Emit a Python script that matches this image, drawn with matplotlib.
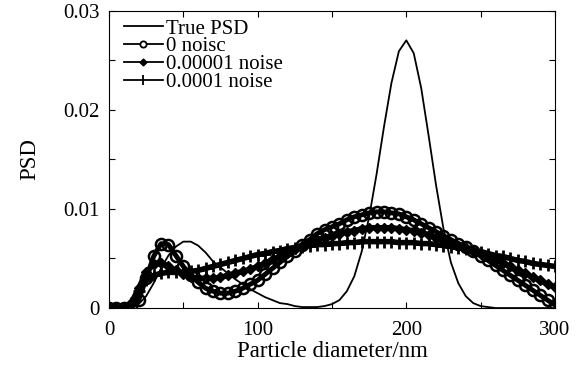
import matplotlib
matplotlib.use("Agg")
import matplotlib.pyplot as plt
from matplotlib.lines import Line2D
from matplotlib.ticker import MultipleLocator, FixedLocator, FixedFormatter

plt.rcParams['font.family'] = ['Liberation Serif', 'DejaVu Serif']

# particle diameter grid (nm)
diameter = list(range(0, 301, 5))

true_psd = [0, 0, 0, 0.0001, 0.0004, 0.0012, 0.0025, 0.0040, 0.0053, 0.0062,
            0.0067, 0.0067, 0.0063, 0.0056, 0.0047, 0.0041, 0.0035, 0.0029, 0.0024, 0.0019,
            0.0015, 0.0011, 0.0008, 0.0005, 0.0004, 0.0002, 0.0001, 0.0001, 0.0001, 0.0002,
            0.0004, 0.0008, 0.0017, 0.0032, 0.0057, 0.0092, 0.0135, 0.0183, 0.0227, 0.0259,
            0.0270, 0.0257, 0.0222, 0.0174, 0.0124, 0.0080, 0.0046, 0.0025, 0.0012, 0.0005,
            0.0002, 0.0001, 0, 0, 0, 0, 0, 0, 0, 0, 0]

noise_0 = [0, 0, 0, 0, 0.0008, 0.0030, 0.0052, 0.0065, 0.0064, 0.0053,
           0.0042, 0.0033, 0.0026, 0.0020, 0.0017, 0.0015, 0.0015, 0.0017, 0.0020, 0.0024,
           0.0028, 0.0034, 0.0040, 0.0046, 0.0052, 0.0058, 0.0064, 0.0069, 0.0075, 0.0079,
           0.0082, 0.0085, 0.0089, 0.0092, 0.0094, 0.0096, 0.0097, 0.0097, 0.0096, 0.0095,
           0.0092, 0.0089, 0.0085, 0.0081, 0.0077, 0.0073, 0.0069, 0.0065, 0.0062, 0.0058,
           0.0053, 0.0048, 0.0043, 0.0038, 0.0033, 0.0028, 0.0023, 0.0018, 0.0013, 0.0008,
           0.0003]

noise_1e5 = [0, 0, 0, 0.0005, 0.0020, 0.0036, 0.0044, 0.0045, 0.0042, 0.0038,
             0.0034, 0.0031, 0.0030, 0.0030, 0.0030, 0.0031, 0.0033, 0.0035, 0.0037, 0.0039,
             0.0042, 0.0045, 0.0049, 0.0052, 0.0056, 0.0060, 0.0063, 0.0066, 0.0069, 0.0071,
             0.0073, 0.0075, 0.0077, 0.0078, 0.0080, 0.0081, 0.0081, 0.0081, 0.0081, 0.0080,
             0.0079, 0.0078, 0.0076, 0.0074, 0.0071, 0.0069, 0.0066, 0.0063, 0.0061, 0.0058,
             0.0055, 0.0052, 0.0049, 0.0045, 0.0042, 0.0038, 0.0035, 0.0031, 0.0028, 0.0024,
             0.0021]

noise_1e4 = [0, 0, 0, 0.0005, 0.0017, 0.0028, 0.0033, 0.0035, 0.0036, 0.0036,
             0.0036, 0.0037, 0.0038, 0.0040, 0.0042, 0.0044, 0.0046, 0.0048, 0.0050, 0.0052,
             0.0054, 0.0055, 0.0057, 0.0058, 0.0060, 0.0061, 0.0062, 0.0063, 0.0064, 0.0064,
             0.0065, 0.0065, 0.0066, 0.0066, 0.0067, 0.0067, 0.0067, 0.0067, 0.0067, 0.0066,
             0.0066, 0.0066, 0.0065, 0.0065, 0.0064, 0.0063, 0.0062, 0.0061, 0.0060, 0.0058,
             0.0057, 0.0055, 0.0053, 0.0052, 0.0050, 0.0048, 0.0047, 0.0045, 0.0044, 0.0043,
             0.0042]

labels = ["True PSD", "0 noisc", "0.00001 noise", "0.0001 noise"]
x_ticks = [0, 100, 200, 300]
y_ticks = [0, 0.01, 0.02, 0.03]
y_tick_labels = ["0", "0.01", "0.02", "0.03"]

fig = plt.figure(figsize=(5.84, 3.65), dpi=100)
ax = fig.add_axes([0.1866, 0.156, 0.7637, 0.815])

# thick marker bands (dense markers in the original)
ax.plot(diameter, noise_1e4, color='black', lw=4.0, marker='+', ms=8, mew=2.0)
ax.plot(diameter, noise_1e5, color='black', lw=4.0, marker='D', ms=5.5)
ax.plot(diameter, noise_0, color='black', lw=3.5, marker='o', ms=8,
        mfc='none', mew=1.8)
ax.plot(diameter, true_psd, color='black', lw=1.3)

handles = [
    Line2D([], [], color='black', lw=1.3),
    Line2D([], [], color='black', lw=1.3, marker='o', ms=4.5, mfc='white', mew=1.3),
    Line2D([], [], color='black', lw=1.3, marker='D', ms=3.5),
    Line2D([], [], color='black', lw=1.3, marker='|', ms=7, mew=1.3),
]
ax.legend(handles, labels, loc='upper left', bbox_to_anchor=(0.014, 1.0),
          frameon=False, fontsize=15,
          handlelength=1.9, handletextpad=0.15, labelspacing=-0.08,
          borderaxespad=0.35, borderpad=0.05)

ax.set_xlim(0, 300)
ax.set_ylim(0, 0.03)
ax.xaxis.set_major_locator(FixedLocator(x_ticks))
ax.xaxis.set_minor_locator(MultipleLocator(50))
ax.yaxis.set_major_locator(FixedLocator(y_ticks))
ax.yaxis.set_major_formatter(FixedFormatter(y_tick_labels))
ax.yaxis.set_minor_locator(MultipleLocator(0.005))
ax.tick_params(which='both', direction='in', top=True, right=True,
               length=4, width=0.8, labelsize=15)
ax.tick_params(axis='y', pad=7)
ax.tick_params(axis='x', pad=9)
ax.set_xlabel("Particle diameter/nm", fontsize=16.5, labelpad=1)
ax.set_ylabel("PSD", fontsize=16.5, labelpad=16)

fig.savefig("out.png", dpi=100)
